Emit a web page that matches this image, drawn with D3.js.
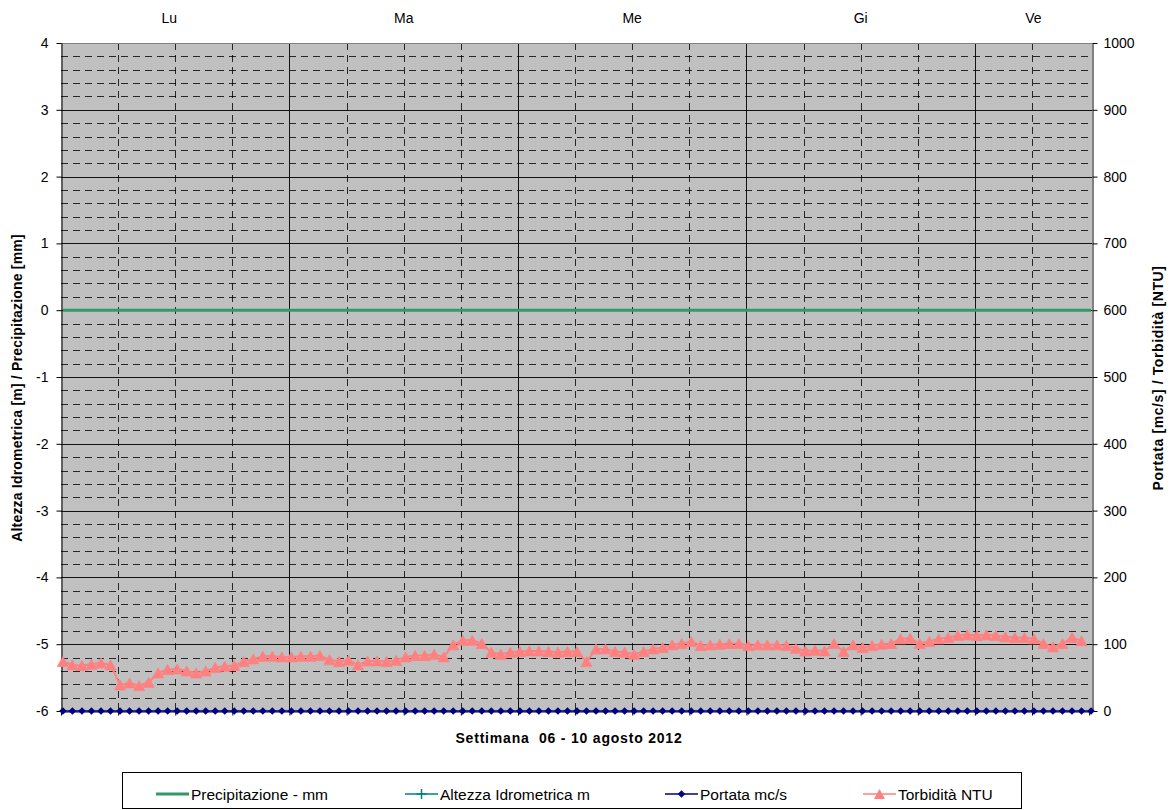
<!DOCTYPE html>
<html>
<head>
<meta charset="utf-8">
<script src="https://cdn.jsdelivr.net/npm/d3@7"></script>
<style>
html,body{margin:0;padding:0;background:#fff;}
svg{display:block;font-family:"Liberation Sans",Arial,sans-serif;}
</style>
</head>
<body>
<svg id="chart" width="1171" height="810"></svg>
<script>
// ---- DATA ----
const dayLabels = ["Lu","Ma","Me","Gi","Ve"];
const leftTicks = [-6,-5,-4,-3,-2,-1,0,1,2,3,4];
const rightTicks = [0,100,200,300,400,500,600,700,800,900,1000];
const hours = d3.range(109); // hourly categories, Mon 00 -> Fri 12
const precipitazione = [
0,0,0,0,0,0,0,0,0,0,0,0,0,0,0,0,0,0,0,0,0,0,0,0,
0,0,0,0,0,0,0,0,0,0,0,0,0,0,0,0,0,0,0,0,0,0,0,0,
0,0,0,0,0,0,0,0,0,0,0,0,0,0,0,0,0,0,0,0,0,0,0,0,
0,0,0,0,0,0,0,0,0,0,0,0,0,0,0,0,0,0,0,0,0,0,0,0,
0,0,0,0,0,0,0,0,0,0,0,0,0];
const altezza = []; // no data in this week
const portata = [
0,0,0,0,0,0,0,0,0,0,0,0,0,0,0,0,0,0,0,0,0,0,0,0,
0,0,0,0,0,0,0,0,0,0,0,0,0,0,0,0,0,0,0,0,0,0,0,0,
0,0,0,0,0,0,0,0,0,0,0,0,0,0,0,0,0,0,0,0,0,0,0,0,
0,0,0,0,0,0,0,0,0,0,0,0,0,0,0,0,0,0,0,0,0,0,0,0,
0,0,0,0,0,0,0,0,0,0,0,0,0];
const torbidita = [
74,69,68,70,72,69,39,42,38,43,57,62,63,60,57,60,65,67,68,74,78,82,82,81,
81,82,82,83,77,74,76,69,75,75,74,76,81,83,83,85,81,99,106,106,101,88,85,88,
89,90,90,89,88,89,89,74,93,93,89,88,85,89,93,95,99,101,104,98,99,100,101,101,
98,99,99,99,98,94,90,91,90,101,89,99,95,98,100,101,108,109,101,104,108,110,113,114,
113,114,113,111,110,110,108,101,96,101,110,105];

// ---- LAYOUT ----
const L = 61, R = 1092, T = 43, B = 711;
const svg = d3.select("#chart");
const x = d3.scaleLinear().domain([0, 108.3]).range([L, R]);
const yL = d3.scaleLinear().domain([-6, 4]).range([B, T]);
const yR = d3.scaleLinear().domain([0, 1000]).range([B, T]);
const tOff = 0.2; // readings a few minutes after the hour

svg.append("rect").attr("width",1171).attr("height",810).attr("fill","#fff");
svg.append("rect").attr("x",L).attr("y",T).attr("width",R-L).attr("height",B-T).attr("fill","#C0C0C0");

// horizontal grid
const hg = svg.append("g");
const minorVals = d3.range(-5.8, 4.0, 0.2).map(v => Math.round(v*10)/10);
minorVals.forEach(v => {
  const isMajor = Math.abs(v - Math.round(v)) < 1e-6;
  hg.append("line").attr("x1",L).attr("x2",R).attr("y1",Math.round(yL(v))+0.5).attr("y2",Math.round(yL(v))+0.5)
    .attr("stroke","#000").attr("stroke-width",1)
    .attr("stroke-dasharray", isMajor ? null : "7,5")
    .attr("stroke-opacity", isMajor ? 0.9 : 0.8);
});
// vertical grid
const vg = svg.append("g");
d3.range(6, 108, 6).forEach(h => {
  const major = h % 24 === 0;
  vg.append("line").attr("x1",Math.round(x(h))+0.5).attr("x2",Math.round(x(h))+0.5).attr("y1",T).attr("y2",B)
    .attr("stroke","#000").attr("stroke-width",1)
    .attr("stroke-dasharray", major ? null : "7,5")
    .attr("stroke-opacity", major ? 0.9 : 0.8);
});
// top border
svg.append("line").attr("x1",L).attr("x2",R).attr("y1",T+0.5).attr("y2",T+0.5).attr("stroke","#808080");

// axes
const axL = svg.append("g").attr("transform",`translate(${L+0.5},0)`)
  .call(d3.axisLeft(yL).tickValues(leftTicks).tickSize(5).tickSizeOuter(0).tickPadding(8).tickFormat(d3.format("d")));
const axR = svg.append("g").attr("transform",`translate(${R+0.5},0)`)
  .call(d3.axisRight(yR).tickValues(rightTicks).tickSize(5).tickSizeOuter(0).tickPadding(6).tickFormat(d3.format("d")));
const axB = svg.append("g").attr("transform",`translate(0,${B+0.5})`)
  .call(d3.axisBottom(x).tickValues(d3.range(0,109,6)).tickSize(4).tickSizeOuter(0).tickFormat(""));
[axL,axR,axB].forEach(a => {
  a.selectAll("path,line").attr("stroke","#000");
  a.selectAll("text").attr("fill","#000").style("font-size","14px").style("font-family","'Liberation Sans',Arial,sans-serif");
});
axL.selectAll("text").text(d => d < 0 ? "-" + Math.abs(d) : d);

// day labels
const dayEdges = [0,24,48,72,96,108.3];
dayLabels.forEach((d,i) => {
  svg.append("text").attr("x",(x(dayEdges[i])+x(dayEdges[i+1]))/2 - (i===0 ? 6 : 0)).attr("y",23)
    .attr("text-anchor","middle").style("font-size","14px").text(d);
});

// series
const line = (ys, sc) => d3.line().x((d,i)=>x(i+tOff)).y(d=>sc(d));
svg.append("path").datum(precipitazione).attr("d", line(precipitazione, yL))
  .attr("fill","none").attr("stroke","#339966").attr("stroke-width",3);
svg.append("path").datum(altezza).attr("d", line(altezza, yL))
  .attr("fill","none").attr("stroke","#008080").attr("stroke-width",2);

svg.append("path").datum(portata).attr("d", line(portata, yR))
  .attr("fill","none").attr("stroke","#000080").attr("stroke-width",1.5);
const diamond = r => `M0,${-r}L${r},0L0,${r}L${-r},0Z`;
svg.append("g").selectAll("path").data(portata).join("path")
  .attr("transform",(d,i)=>`translate(${x(i+tOff)},${yR(d)})`)
  .attr("d", diamond(3.8)).attr("fill","#000080");

svg.append("path").datum(torbidita).attr("d", line(torbidita, yR))
  .attr("fill","none").attr("stroke","#FF8080").attr("stroke-width",2);
const tri = (w,h) => `M0,${-h/2}L${w/2},${h/2}L${-w/2},${h/2}Z`;
svg.append("g").selectAll("path").data(torbidita).join("path")
  .attr("transform",(d,i)=>`translate(${x(i+tOff)},${yR(d)})`)
  .attr("d", tri(11,10)).attr("fill","#FF8080").attr("stroke","#FF8080").attr("stroke-width",0.8);

// axis titles
svg.append("text").attr("transform",`translate(22,388) rotate(-90)`).attr("text-anchor","middle")
  .style("font-size","14px").style("font-weight","bold").style("letter-spacing","0.2px")
  .text("Altezza Idrometrica [m] / Precipitazione [mm]");
svg.append("text").attr("transform",`translate(1163,378) rotate(-90)`).attr("text-anchor","middle")
  .style("font-size","14px").style("font-weight","bold").style("letter-spacing","0.6px")
  .text("Portata [mc/s] / Torbidità [NTU]");
svg.append("text").attr("x",569).attr("y",743).attr("text-anchor","middle")
  .style("font-size","14px").style("font-weight","bold").style("letter-spacing","0.8px")
  .attr("xml:space","preserve").style("white-space","pre")
  .text("Settimana  06 - 10 agosto 2012");

// legend
const lg = svg.append("g");
lg.append("rect").attr("x",122.5).attr("y",772.5).attr("width",899).attr("height",36).attr("fill","#fff").attr("stroke","#000");
const items = [
  {name:"Precipitazione - mm", color:"#339966", x:156, w:3, mk:null},
  {name:"Altezza Idrometrica m", color:"#008080", x:405, w:1.5, mk:"plus"},
  {name:"Portata mc/s", color:"#000080", x:665, w:1.5, mk:"diamond"},
  {name:"Torbidità NTU", color:"#FF8080", x:863, w:1.5, mk:"tri"}
];
items.forEach(it => {
  const g = lg.append("g").attr("transform",`translate(${it.x},794)`);
  g.append("line").attr("x1",0).attr("x2",33).attr("stroke",it.color).attr("stroke-width",it.w);
  if (it.mk === "plus") g.append("path").attr("d","M16.5,-5V5M11.5,0H21.5").attr("stroke",it.color).attr("stroke-width",1.5);
  if (it.mk === "diamond") g.append("path").attr("transform","translate(16.5,0)").attr("d",diamond(3.8)).attr("fill",it.color);
  if (it.mk === "tri") g.append("path").attr("transform","translate(16.5,0)").attr("d",tri(11,10)).attr("fill",it.color);
  g.append("text").attr("x",35).attr("y",5.5).style("font-size","15.5px").text(it.name);
});
</script>
</body>
</html>
